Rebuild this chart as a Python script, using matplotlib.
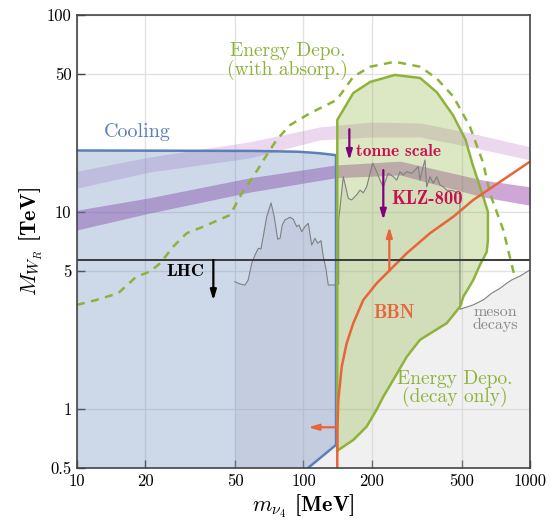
import matplotlib
matplotlib.use("Agg")
import matplotlib.pyplot as plt
from matplotlib.ticker import NullLocator

plt.rcParams["mathtext.fontset"] = "cm"
plt.rcParams["font.family"] = "cmr10"
plt.rcParams["axes.unicode_minus"] = False

# ---------------- data (x: m_nu4 in MeV, y: M_WR in TeV) ----------------
cool_x = [10, 60, 95, 115, 130, 139.2, 139.2, 104.7]
cool_y = [20.5, 20.4, 20.2, 19.9, 19.6, 19.4, 0.655, 0.5]

decay_x = [141, 141, 166, 197, 253, 327, 388, 457, 520, 556, 622, 652, 652, 644,
           601, 562, 508, 491, 429, 327, 286, 249, 225, 210, 190, 166, 141]
decay_y = [0.612, 29.3, 40.2, 45.7, 49.6, 47.9, 40.5, 31.0, 23.2, 17.65, 11.9, 10.0, 7.2, 6.26,
           5.37, 4.51, 3.71, 3.30, 2.72, 2.24, 1.84, 1.40, 1.15, 0.986, 0.811, 0.694, 0.612]

absorp_x = [10, 12.2, 15.2, 18.3, 21.0, 23.3, 26.6, 30.5, 36.1, 47.4, 53.4, 60.0, 68.8, 76.1,
            87.2, 106.8, 140, 166, 197, 253, 327, 387, 459, 543, 622, 666, 762, 859]
absorp_y = [3.37, 3.57, 3.86, 4.69, 4.97, 5.48, 6.66, 7.79, 8.41, 9.64, 12.4, 15.1, 19.45, 23.2,
            27.6, 31.7, 37.0, 48.6, 54.6, 57.9, 54.6, 47.7, 38.5, 27.1, 17.65, 12.4, 8.09, 4.60]

meson_x = [49.8, 52.5, 55.2, 57.0, 59.1, 61.1, 63.2, 64.9, 66.4, 68.8,
           71.9, 74.3, 76.9, 78.8, 80.6, 82.8, 87.2, 90.2, 93.3, 95.5,
           98.2, 101.5, 105.0, 108.7, 112.4, 115.5, 119.5, 122.3, 125.3, 128.7,
           137.7, 143,
           143, 149.9, 157.7, 163.3, 171.7, 177.6, 183.7, 190.1, 196.7, 202.1,
           210.5, 217.6, 225.1, 236.8, 249.2, 257.9, 266.7, 275.8, 285.5, 300.4,
           310.7, 321.2, 326.8, 336.0, 343.9, 349.9, 361.8, 374.2, 387.4, 400.6,
           414.3, 428.8, 458.6, 482.5, 490.9,
           490.9, 562, 622, 677, 737, 789, 830, 903, 1000]
meson_y = [4.42, 4.30, 4.25, 4.51, 5.48, 6.04, 6.53, 6.48, 7.48, 9.45,
           11.1, 9.45, 7.26, 7.34, 8.58, 9.10, 9.39, 9.17, 8.41, 8.58,
           7.93, 8.41, 8.75, 6.79, 7.34, 6.93, 7.14, 5.92, 5.23, 4.25,
           4.25, 4.30,
           9.10, 15.1, 11.7, 11.5, 12.2, 12.9, 12.5, 13.4, 15.7, 17.65,
           16.0, 14.5, 13.4, 15.7, 15.1, 14.5, 16.0, 15.4, 16.0, 15.7,
           16.3, 17.0, 14.5, 16.65, 18.35, 13.4, 15.1, 13.97, 15.1, 13.7,
           13.4, 12.9, 12.8, 12.4, 12.4,
           3.20, 3.37, 3.57, 3.86, 4.09, 4.34, 4.51, 4.72, 5.07]

bbn_x = [141, 141, 142.5, 147.5, 155.1, 165.9, 183.7, 210.5, 241.0, 285.5, 361.8, 458.6, 561.9, 1000]
bbn_y = [0.5, 0.751, 1.108, 1.636, 2.15, 2.72, 3.57, 4.34, 5.07, 6.16, 7.79, 9.45, 11.5, 18.0]

tonne_x = [10, 21, 58, 118, 197, 327, 543, 1000]
tonne_hi = [16.1, 19.0, 22.7, 27.0, 28.6, 28.3, 25.2, 21.4]
tonne_lo = [13.2, 15.95, 18.8, 23.2, 24.0, 24.0, 21.4, 18.35]

klz_x = [10, 21, 58, 138, 267, 620, 1000]
klz_hi = [10.2, 11.8, 14.9, 17.3, 18.1, 14.5, 13.4]
klz_lo = [8.09, 9.87, 12.6, 14.9, 15.4, 11.9, 10.8]

lhc_limit = 5.7

xticks = [10, 20, 50, 100, 200, 500, 1000]
yticks = [0.5, 1, 5, 10, 50, 100]
ytick_labels = ["0.5", "1", "5", "10", "50", "100"]

# arrows: (tail, head)
arrows = {
    "lhc": ((40.0, lhc_limit), (40.0, 3.55)),
    "tonne": ((159.4, 26.3), (159.4, 18.3)),
    "klz": ((225.1, 16.3), (225.1, 9.1)),
    "bbn_up": ((239.3, 5.0), (239.3, 8.4)),
    "bbn_left": ((139.5, 0.805), (105.0, 0.805)),
}

BLUE = "#5b7fb8"
GREEN = "#8db33a"
ORANGE = "#e8643c"
CRIMSON = "#c8104f"
PURPLE = "#800080"

fig = plt.figure(figsize=(5.53, 5.23), dpi=100)
ax = fig.add_axes([0.1392, 0.1052, 0.8192, 0.8661])
ax.set_xscale("log")
ax.set_yscale("log")
ax.set_xlim(10, 1000)
ax.set_ylim(0.5, 100)

# meson decays (gray)
ax.fill(meson_x[:1] + meson_x + [1000], [0.5] + meson_y + [0.5],
        color="#cfcfcf", alpha=0.3, lw=0, zorder=1)
ax.plot(meson_x, meson_y, color="#808080", lw=0.8, zorder=5)

# future sensitivity bands
ax.fill_between(tonne_x, tonne_lo, tonne_hi, color="#c080c8", alpha=0.3, lw=0, zorder=2)
ax.fill_between(klz_x, klz_lo, klz_hi, color="#a050b0", alpha=0.5, lw=0, zorder=2)

# cooling
ax.fill([10] + cool_x + [10], [0.5] + cool_y + [0.5], color=BLUE, alpha=0.3, lw=0, zorder=3)
ax.plot(cool_x, cool_y, color=BLUE, lw=1.8, zorder=5)

# energy deposition (decay only)
ax.fill(decay_x, decay_y, color=GREEN, alpha=0.3, lw=0, zorder=4)
ax.plot(decay_x, decay_y, color=GREEN, lw=1.8, zorder=5)

# energy deposition (with absorption)
ax.plot(absorp_x, absorp_y, color=GREEN, lw=1.8, ls=(0, (3.2, 2.6)), zorder=5)

# BBN
ax.plot(bbn_x, bbn_y, color=ORANGE, lw=1.8, zorder=6)

# LHC
ax.axhline(lhc_limit, color="#3a3a3a", lw=1.4, zorder=6)

arrow_colors = {"lhc": "black", "tonne": PURPLE, "klz": PURPLE,
                "bbn_up": ORANGE, "bbn_left": ORANGE}
for key, (tail, head) in arrows.items():
    ax.annotate("", xy=head, xytext=tail,
                arrowprops=dict(arrowstyle="-|>,head_length=0.6,head_width=0.18",
                                color=arrow_colors[key], lw=1.6,
                                shrinkA=0, shrinkB=0),
                zorder=7)

# labels
ax.text(18.5, 25.5, "Cooling", color=BLUE, fontsize=14.5, ha="center", va="center", zorder=8)
ax.text(85.0, 58.4, "Energy Depo.\n(with absorp.)", color=GREEN, fontsize=14,
        ha="center", va="center", multialignment="center", linespacing=0.95, zorder=8)
ax.text(466.6, 1.27, "Energy Depo.\n(decay only)", color=GREEN, fontsize=14,
        ha="center", va="center", multialignment="center", linespacing=0.95, zorder=8)
ax.text(700.8, 2.86, "meson\ndecays", color="#888888", fontsize=11.5,
        ha="center", va="center", multialignment="center", linespacing=0.9, zorder=8)
ax.text(252.3, 3.05, "BBN", color=ORANGE, fontsize=13.5, family="cmb10",
        ha="center", va="center", zorder=8)
ax.text(30.0, 4.97, "LHC", color="black", fontsize=13, family="cmb10",
        ha="center", va="center", zorder=8)
ax.text(263, 20.2, "tonne scale", color=CRIMSON, fontsize=12.5, family="cmb10",
        ha="center", va="center", zorder=8)
ax.text(353, 11.6, "KLZ-800", color=CRIMSON, fontsize=13.5, family="cmb10",
        ha="center", va="center", zorder=8)

# axes styling
ax.set_xticks(xticks)
ax.set_xticklabels([str(t) for t in xticks])
ax.set_yticks(yticks)
ax.set_yticklabels(ytick_labels)
ax.xaxis.set_minor_locator(NullLocator())
ax.yaxis.set_minor_locator(NullLocator())
ax.tick_params(direction="in", length=6, width=1, color="#444444", labelsize=12, pad=4)
ax.grid(True, color="#e2e2e2", lw=1)
ax.set_axisbelow(True)
for sp in ax.spines.values():
    sp.set_color("#444444")
    sp.set_linewidth(1.2)
    sp.set_zorder(9)

ax.set_xlabel(r"$m_{\nu_4}$ [MeV]", fontsize=16, family="cmb10", labelpad=3)
ax.set_ylabel(r"$M_{W_R}$ [TeV]", fontsize=16, family="cmb10", labelpad=2)

fig.savefig("out.png", dpi=100)
